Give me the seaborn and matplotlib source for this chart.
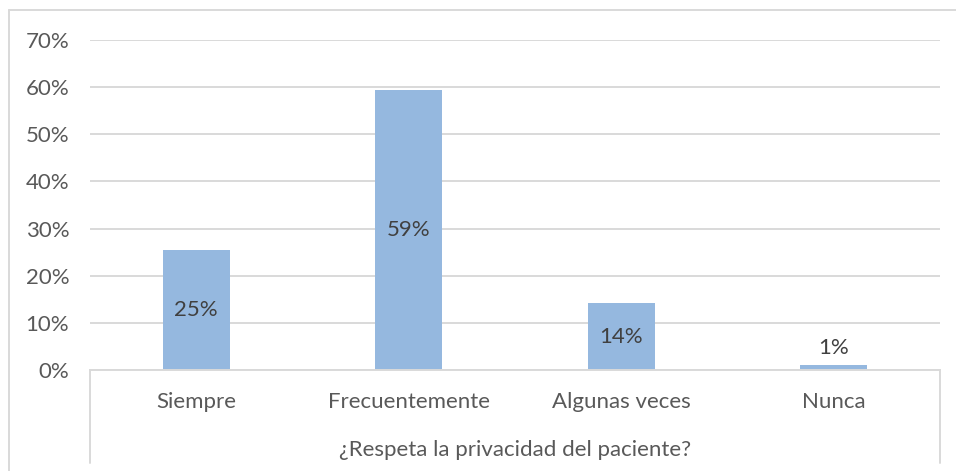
import matplotlib
matplotlib.use("Agg")
import matplotlib.pyplot as plt
import seaborn as sns
import pandas as pd
from matplotlib.lines import Line2D

categories = ["Siempre", "Frecuentemente", "Algunas veces", "Nunca"]
values = [0.255, 0.593, 0.142, 0.011]
value_labels = ["25%", "59%", "14%", "1%"]
yticks = [0, 0.1, 0.2, 0.3, 0.4, 0.5, 0.6, 0.7]
ytick_labels = ["0%", "10%", "20%", "30%", "40%", "50%", "60%", "70%"]
axis_title = "¿Respeta la privacidad del paciente?"

sns.set_theme(style="white")
plt.rcParams['font.family'] = ['Lato', 'DejaVu Sans']

FS = 16
W, H = 956, 471
fig = plt.figure(figsize=(W / 100, H / 100), dpi=100)
ax = fig.add_axes([90 / W, 1 - 370 / H, (940 - 90) / W, (370 - 40) / H])

df = pd.DataFrame({"cat": categories, "val": values})
sns.barplot(data=df, x="cat", y="val", color="#95B8DF", saturation=1,
            width=0.315, ax=ax, edgecolor="none")

ax.set_ylim(0, 0.7)
ax.set_xlim(-0.5, 3.5)
ax.set_yticks(yticks)
ax.set_yticklabels(ytick_labels)
ax.yaxis.grid(True, color="#D9D9D9", lw=1.4)
ax.set_axisbelow(True)
for s in ["top", "right", "left"]:
    ax.spines[s].set_visible(False)
ax.spines["bottom"].set_color("#D9D9D9")
ax.spines["bottom"].set_linewidth(1.4)
ax.tick_params(axis="y", length=0, pad=15, labelsize=FS, labelcolor="#595959")
ax.tick_params(axis="x", length=0, pad=16, labelsize=FS, labelcolor="#595959")
ax.set_xlabel(axis_title, fontsize=FS, color="#595959", labelpad=20)
ax.set_ylabel("")

for i, (v, lab) in enumerate(zip(values, value_labels)):
    if v < 0.05:
        ax.text(i, v + 0.035, lab, ha="center", va="center", fontsize=FS, color="#404040")
    else:
        ax.text(i, v / 2, lab, ha="center", va="center", fontsize=FS, color="#404040")

lc = "#D9D9D9"
def fl(x0, y0, x1, y1):
    fig.add_artist(Line2D([x0 / W, x1 / W], [1 - y0 / H, 1 - y1 / H], color=lc, lw=1.4))

# table-like box under axis
fl(90, 370, 90, 463)
fl(940, 370, 940, 463)
# outer chart frame
fl(9, 10, 9, 471)
fl(9, 10, 956, 10)

fig.savefig("out.png", dpi=100, facecolor="white")
